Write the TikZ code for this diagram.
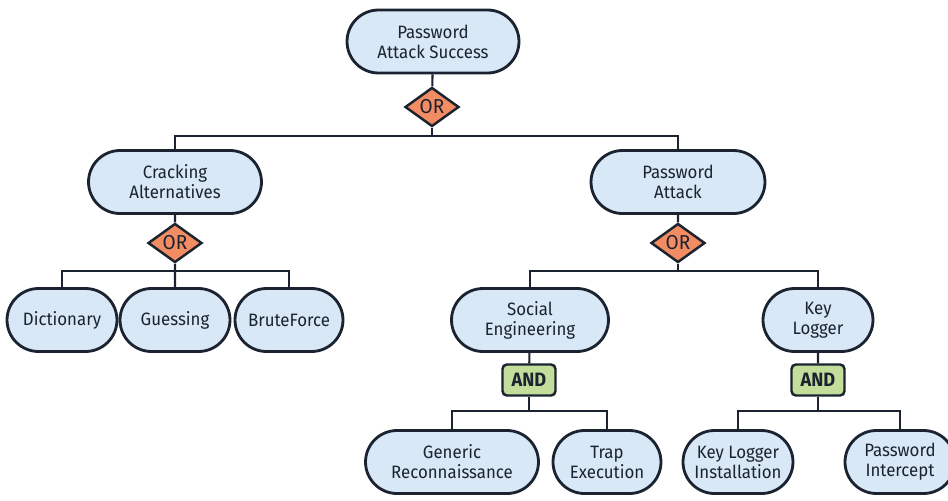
\documentclass[tikz,border=0pt]{standalone}
\usepackage{fontspec}
\setmainfont{Fira Sans}[FakeStretch=0.94]
\usetikzlibrary{shapes.misc,shapes.geometric}
\definecolor{boxfill}{HTML}{D8E8F6}
\definecolor{inkline}{HTML}{1B2230}
\definecolor{orfill}{HTML}{F28C63}
\definecolor{andfill}{HTML}{C3DE9B}
\tikzset{
  goal/.style={rounded rectangle, draw=inkline, fill=boxfill, line width=1.6pt,
    minimum height=1.26cm, inner sep=0pt, align=center, text=inkline,
    font=\fontsize{10.2}{11.4}\selectfont},
  orgate/.style={diamond, draw=inkline, fill=orfill, line width=1.4pt,
    minimum width=1.08cm, minimum height=0.62cm, inner sep=0pt, text=inkline,
    font=\fontsize{11.5}{12}\selectfont},
  andgate/.style={rectangle, rounded corners=2.5pt, draw=inkline, fill=andfill,
    line width=1.4pt, minimum width=1.06cm, minimum height=0.62cm, inner sep=0pt,
    text=inkline, font=\fontsize{11}{12}\selectfont\bfseries},
  link/.style={draw=inkline, line width=1.2pt}
}
\begin{document}
\begin{tikzpicture}[x=0.02cm,y=-0.02cm]
\clip (0,0) rectangle (948,501);
\fill[white] (0,0) rectangle (948,501);
\node[goal, minimum width=3.44cm] (root) at (433,41.5) {Password\\Attack Success};
\node[orgate] (g1) at (432,107) {OR};
\node[goal, minimum width=3.46cm] (crack) at (175,182) {Cracking\\Alternatives};
\node[goal, minimum width=3.48cm] (pwatk) at (678,182) {Password\\Attack};
\node[orgate] (g2) at (175,243) {OR};
\node[orgate] (g3) at (678,243) {OR};
\node[goal, minimum width=2.2cm] (dict) at (62,320) {Dictionary};
\node[goal, minimum width=2.2cm] (guess) at (175,320) {Guessing};
\node[goal, minimum width=2.16cm] (brute) at (289,320) {BruteForce};
\node[goal, minimum width=3.14cm] (social) at (530,320) {Social\\Engineering};
\node[goal, minimum width=2.2cm] (keylog) at (818,320) {Key\\Logger};
\node[andgate] (and1) at (529,380) {AND};
\node[andgate] (and2) at (818,380) {AND};
\node[goal, minimum width=3.46cm] (generic) at (452,462) {Generic\\Reconnaissance};
\node[goal, minimum width=2.16cm] (trap) at (607,462) {Trap\\Execution};
\node[goal, minimum width=2.2cm] (klinst) at (738,462) {Key Logger\\Installation};
\node[goal, minimum width=2.2cm] (pwint) at (900,462) {Password\\Intercept};
\coordinate (b1) at (432,136);
\coordinate (b2) at (175,271);
\coordinate (b3) at (678,271);
\coordinate (b4) at (529,411);
\coordinate (b5) at (818,411);
\draw[link] (root) -- (g1);
\draw[link] (g1) -- (b1);
\draw[link] (crack) |- (b1) -| (pwatk);
\draw[link] (crack) -- (g2);
\draw[link] (pwatk) -- (g3);
\draw[link] (g2) -- (guess);
\draw[link] (dict) |- (b2) -| (brute);
\draw[link] (g3) -- (b3);
\draw[link] (social) |- (b3) -| (keylog);
\draw[link] (social) -- (and1);
\draw[link] (and1) -- (b4);
\draw[link] (generic) |- (b4) -| (trap);
\draw[link] (keylog) -- (and2);
\draw[link] (and2) -- (b5);
\draw[link] (klinst) |- (b5) -| (pwint);
\end{tikzpicture}
\end{document}
